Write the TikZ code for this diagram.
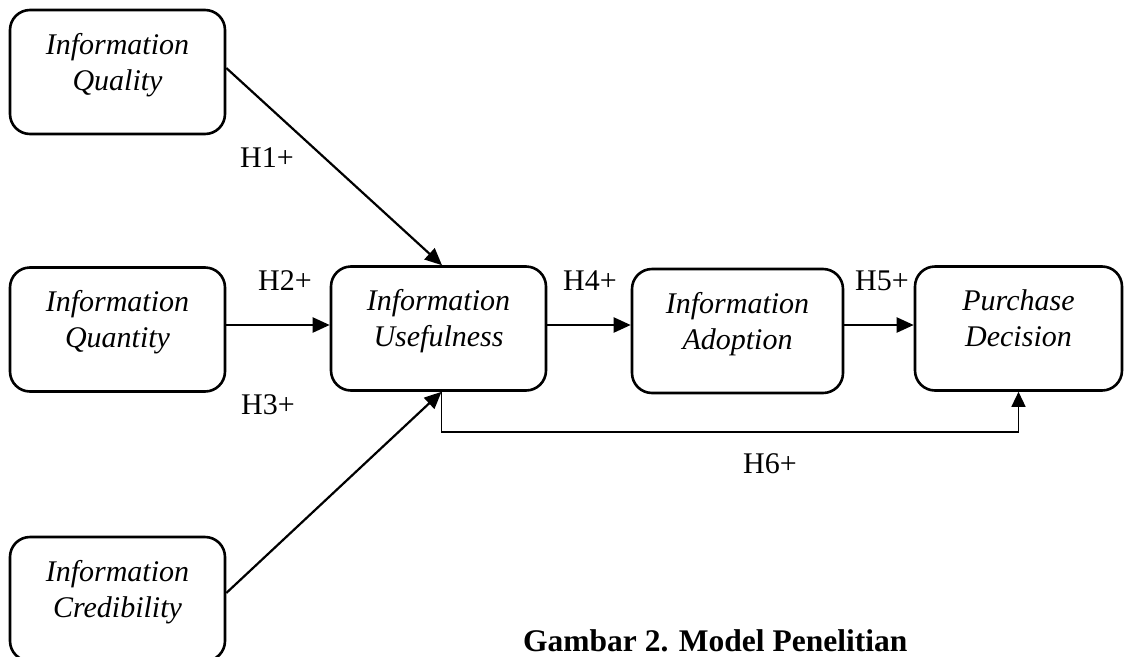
\documentclass[tikz,border=0pt]{standalone}
\usepackage{fontspec}
\setmainfont{Liberation Serif}
\usetikzlibrary{arrows.meta}
\tikzset{
  box/.style={draw, line width=2.6pt, rounded corners=20pt, minimum width=#1, minimum height=124pt, inner sep=0pt},
  box/.default=215pt,
  txt/.style={align=center, inner sep=0pt, font=\fontsize{30}{36}\selectfont\itshape},
  hyp/.style={anchor=base west, inner sep=0pt, font=\fontsize{30}{36}\selectfont},
  arr/.style={line width=2.2pt, -{Triangle[length=17pt,width=15pt]}},
  thinarr/.style={line width=1.4pt, -{Triangle[length=15pt,width=14pt]}}
}
\begin{document}
\begin{tikzpicture}[x=1pt,y=-1pt]
\useasboundingbox (0,0) rectangle (1134,656);
% boxes
\node[box] (qual) at (117.5,72) {};
\node[box] (quan) at (117.5,329.5) {};
\node[box] (cred) at (117.5,599) {};
\node[box] (use) at (438.5,328.5) {};
\node[box=211pt] (adop) at (737.5,331) {};
\node[box=207pt] (purch) at (1018.5,328.5) {};
% texts
\node[txt] (qualt) at ([yshift=7pt]qual.center) {\strut Information\\\strut Quality};
\node[txt] (quant) at ([yshift=7pt]quan.center) {\strut Information\\\strut Quantity};
\node[txt] (credt) at ([yshift=7pt]cred.center) {\strut Information\\\strut Credibility};
\node[txt] (uset) at ([yshift=7pt]use.center) {\strut Information\\\strut Usefulness};
\node[txt] (adopt) at ([yshift=7pt]adop.center) {\strut Information\\\strut Adoption};
\node[txt] (purcht) at ([yshift=7pt]purch.center) {\strut Purchase\\\strut Decision};
% arrows
\draw[arr] ([yshift=4pt]qual.east) -- ([xshift=3.5pt]use.north);
\draw[arr] ([yshift=4.5pt]quan.east) -- ([yshift=3.5pt]use.west);
\draw[arr] ([yshift=6pt]cred.east) -- ([xshift=3pt]use.south);
\draw[arr] ([yshift=3.5pt]use.east) -- ([yshift=6pt]adop.west);
\draw[arr] ([yshift=6pt]adop.east) -- ([yshift=3.5pt]purch.west);
\coordinate (h6a) at ([xshift=3pt]use.south);
\coordinate (h6b) at ([yshift=-40pt]h6a);
\draw[thinarr] (h6a) -- (h6b) -| (purch.south);
% labels
\node[hyp] (h1) at (240,167) {H1+};
\node[hyp] (h2) at (258,290) {H2+};
\node[hyp] (h3) at (241,414) {H3+};
\node[hyp] (h4) at (563,290) {H4+};
\node[hyp] (h5) at (855,290) {H5+};
\node[hyp] (h6) at (743,473) {H6+};
% caption
\node[anchor=base west, inner sep=0pt, font=\fontsize{31.5}{36}\selectfont\bfseries] (cap) at (523,651) {Gambar 2. Model Penelitian};
\end{tikzpicture}
\end{document}
